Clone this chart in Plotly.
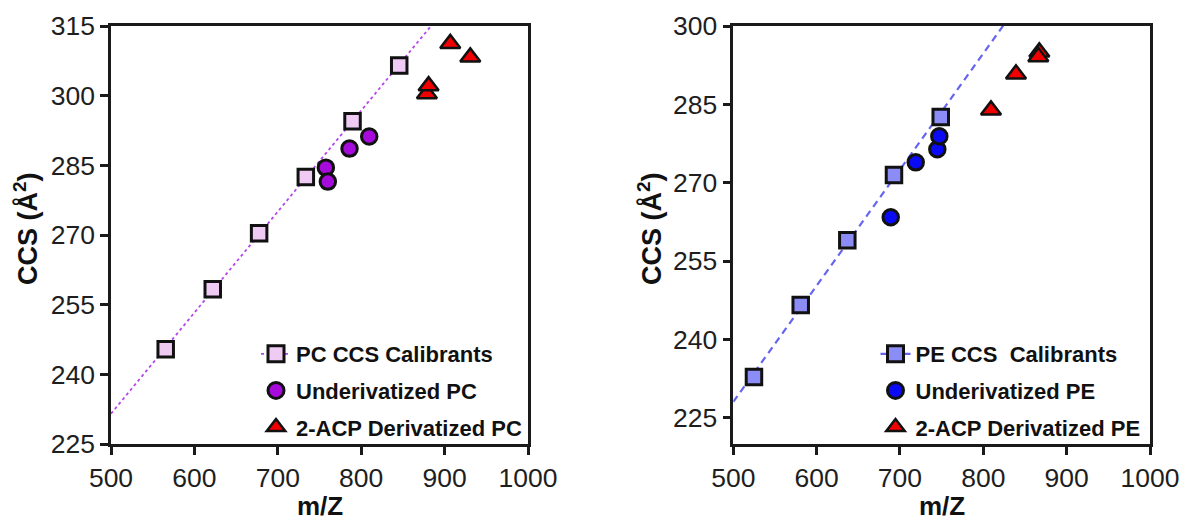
import numpy as np
import plotly.graph_objects as go

# ---------------- data ----------------
pc_cal_mz = [565.6, 622.0, 677.6, 733.6, 789.6, 845.6]
pc_cal_ccs = [245.4, 258.3, 270.4, 282.5, 294.5, 306.5]
pc_und_mz = [757.6, 760.0, 786.0, 809.6]
pc_und_ccs = [284.5, 281.5, 288.6, 291.2]
pc_acp_mz = [878.8, 880.8, 906.8, 930.8]
pc_acp_ccs = [300.4, 302.1, 311.2, 308.3]

pe_cal_mz = [524.8, 580.9, 636.8, 692.8, 748.9]
pe_cal_ccs = [232.8, 246.6, 259.0, 271.5, 282.6]
pe_und_mz = [688.9, 718.9, 744.8, 747.2]
pe_und_ccs = [263.4, 273.9, 276.4, 278.9]
pe_acp_mz = [809.2, 839.2, 867.2, 866.0]
pe_acp_ccs = [283.9, 290.8, 295.0, 294.1]

x_ticks = [500, 600, 700, 800, 900, 1000]
pc_y_ticks = [225, 240, 255, 270, 285, 300, 315]
pe_y_ticks = [225, 240, 255, 270, 285, 300]

names_pc = ["PC CCS Calibrants", "Underivatized PC", "2-ACP Derivatized PC"]
names_pe = ["PE CCS  Calibrants", "Underivatized PE", "2-ACP Derivatized PE"]

# ---------------- style ----------------
FONT = "Liberation Sans, Arial, sans-serif"
AX = "#1a1a1a"
PC_CAL = "#EFCBF3"
PC_UND = "#A60BDB"
PC_LINE = "#B446EE"
PE_CAL = "#8C8CF7"
PE_UND = "#0A0AF5"
PE_LINE = "#6565F0"
RED = "#F00000"

W, H = 1185, 523
top_px, bot_px = 26, 444
PH = bot_px - top_px

def py(p):  # pixel row -> paper y
    return (bot_px - p) / PH

fig = go.Figure()

# fit lines (linear calibration)
fit_x = np.array([500.0, 1000.0])
p_pc = np.polyfit(pc_cal_mz, pc_cal_ccs, 1)
p_pe = np.polyfit(pe_cal_mz, pe_cal_ccs, 1)

fig.add_trace(go.Scatter(x=fit_x, y=np.polyval(p_pc, fit_x), mode="lines",
                         line=dict(color=PC_LINE, width=1.8, dash="3px,3px"),
                         showlegend=False, xaxis="x", yaxis="y", hoverinfo="skip"))
fig.add_trace(go.Scatter(x=fit_x, y=np.polyval(p_pe, fit_x), mode="lines",
                         line=dict(color=PE_LINE, width=2.2, dash="7px,5px"),
                         showlegend=False, xaxis="x2", yaxis="y2", hoverinfo="skip"))

def mk(color, symbol, size, lw=3):
    return dict(color=color, symbol=symbol, size=size, line=dict(color="#111111", width=lw))

# left panel data
fig.add_trace(go.Scatter(x=pc_cal_mz, y=pc_cal_ccs, mode="markers", marker=mk(PC_CAL, "square", 15.5),
                         showlegend=False, xaxis="x", yaxis="y"))
fig.add_trace(go.Scatter(x=pc_und_mz, y=pc_und_ccs, mode="markers", marker=mk(PC_UND, "circle", 15.5),
                         showlegend=False, xaxis="x", yaxis="y"))
fig.add_trace(go.Scatter(x=pc_acp_mz, y=pc_acp_ccs, mode="markers", marker=mk(RED, "triangle-up", 17.5, 2.5),
                         showlegend=False, xaxis="x", yaxis="y"))
# right panel data
fig.add_trace(go.Scatter(x=pe_cal_mz, y=pe_cal_ccs, mode="markers", marker=mk(PE_CAL, "square", 15.5),
                         showlegend=False, xaxis="x2", yaxis="y2"))
fig.add_trace(go.Scatter(x=pe_und_mz, y=pe_und_ccs, mode="markers", marker=mk(PE_UND, "circle", 15.5),
                         showlegend=False, xaxis="x2", yaxis="y2"))
fig.add_trace(go.Scatter(x=pe_acp_mz, y=pe_acp_ccs, mode="markers", marker=mk(RED, "triangle-up", 17.5, 2.5),
                         showlegend=False, xaxis="x2", yaxis="y2"))

# legend entries
leg_specs = [
    (names_pc[0], "lines+markers", mk(PC_CAL, "square", 16), dict(color=PC_LINE, width=1.8, dash="3px,3px"), "legend", "x", "y"),
    (names_pc[1], "markers", mk(PC_UND, "circle", 16), None, "legend", "x", "y"),
    (names_pc[2], "markers", mk(RED, "triangle-up", 16, 2.5), None, "legend", "x", "y"),
    (names_pe[0], "lines+markers", mk(PE_CAL, "square", 16), dict(color=PE_LINE, width=2.2, dash="7px,5px"), "legend2", "x2", "y2"),
    (names_pe[1], "markers", mk(PE_UND, "circle", 16), None, "legend2", "x2", "y2"),
    (names_pe[2], "markers", mk(RED, "triangle-up", 16, 2.5), None, "legend2", "x2", "y2"),
]
for i, (nm, mode, m, ln, lg, xa, ya) in enumerate(leg_specs):
    kw = dict(x=[None], y=[None], mode=mode, marker=m, name=nm, legend=lg,
              legendgroup="g%d" % i, xaxis=xa, yaxis=ya)
    if ln:
        kw["line"] = ln
    fig.add_trace(go.Scatter(**kw))

axis_common = dict(showline=True, linecolor=AX, linewidth=2.5, mirror=True,
                   ticks="outside", ticklen=8, tickwidth=2.5, tickcolor=AX,
                   showgrid=False, zeroline=False, automargin=False, tickangle=0,
                   tickfont=dict(family=FONT, size=26.5, color="#1e1e1e"))

leg_font = dict(family=FONT, size=22, color="#111111", weight="bold")
fig.update_layout(
    width=W, height=H,
    margin=dict(l=0, r=0, t=top_px, b=H - bot_px),
    paper_bgcolor="white", plot_bgcolor="white",
    font=dict(family=FONT),
    xaxis=dict(domain=[111 / W, 528 / W], range=[500, 1000], tickvals=x_ticks, anchor="y", **axis_common),
    yaxis=dict(domain=[0, 1], range=[225, 315], tickvals=pc_y_ticks, anchor="x", **axis_common),
    xaxis2=dict(domain=[733.3 / W, 1150 / W], range=[500, 1000], tickvals=x_ticks, anchor="y2", **axis_common),
    yaxis2=dict(domain=[0, 1], range=[220, 300], tickvals=pe_y_ticks, anchor="x2", **axis_common),
    legend=dict(x=256 / W, xanchor="left", y=py(333), yanchor="top", xref="paper", yref="paper",
                font=leg_font, bgcolor="rgba(0,0,0,0)", traceorder="grouped", tracegroupgap=5),
    legend2=dict(x=875.5 / W, xanchor="left", y=py(333), yanchor="top", xref="paper", yref="paper",
                 font=leg_font, bgcolor="rgba(0,0,0,0)", traceorder="grouped", tracegroupgap=5),
    showlegend=True,
)

ann_font = dict(family=FONT, size=26, color="#111111")
for xc in [(111 + 528) / 2, (733.3 + 1150) / 2]:
    fig.add_annotation(text="<b>m/Z</b>", x=xc / W, y=py(506), xref="paper", yref="paper",
                       xanchor="center", yanchor="middle", showarrow=False, font=ann_font)
for xc in [26, 650]:
    fig.add_annotation(text="<b>CCS (Å<sup>2</sup>)</b>", x=xc / W, y=py(229), xref="paper", yref="paper",
                       xanchor="center", yanchor="middle", showarrow=False, textangle=-90,
                       font=dict(family=FONT, size=27, color="#111111"))

fig.write_html("out.html")
